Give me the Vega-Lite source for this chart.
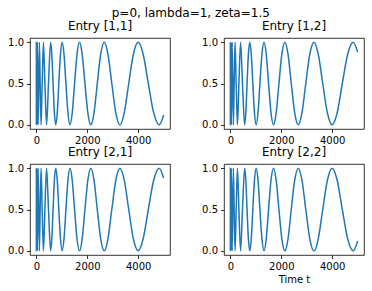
{
  "$schema": "https://vega.github.io/schema/vega-lite/v6.json",
  "padding": {"left": 7, "top": 6, "right": 5, "bottom": 5},
  "title": {"text": "p=0, lambda=1, zeta=1.5", "anchor": "middle", "dx": 5, "offset": 0, "fontSize": 12, "fontWeight": "normal", "color": "#000", "font": "DejaVu Sans"},
  "data": {"values": [
    {"t": 0, "a": 1, "b": 0},
    {"t": 0.1, "a": 0, "b": 1},
    {"t": 0.6, "a": 1, "b": 0},
    {"t": 2.7, "a": 0, "b": 1},
    {"t": 8.2, "a": 1, "b": 0},
    {"t": 19.3, "a": 0, "b": 1},
    {"t": 39.0, "a": 1, "b": 0},
    {"t": 70.6, "a": 0, "b": 1},
    {"t": 117.9, "a": 1, "b": 0},
    {"t": 148.9, "a": 0.5, "b": 0.5},
    {"t": 185.5, "a": 0, "b": 1},
    {"t": 228.4, "a": 0.5, "b": 0.5},
    {"t": 278.2, "a": 1, "b": 0},
    {"t": 335.6, "a": 0.5, "b": 0.5},
    {"t": 401.3, "a": 0, "b": 1},
    {"t": 476.2, "a": 0.5, "b": 0.5},
    {"t": 560.9, "a": 1, "b": 0},
    {"t": 607.2, "a": 0.854, "b": 0.146},
    {"t": 656.2, "a": 0.5, "b": 0.5},
    {"t": 708.1, "a": 0.146, "b": 0.854},
    {"t": 763.0, "a": 0, "b": 1},
    {"t": 821.0, "a": 0.146, "b": 0.854},
    {"t": 882.2, "a": 0.5, "b": 0.5},
    {"t": 946.7, "a": 0.854, "b": 0.146},
    {"t": 1014.6, "a": 1, "b": 0},
    {"t": 1086.1, "a": 0.854, "b": 0.146},
    {"t": 1161.2, "a": 0.5, "b": 0.5},
    {"t": 1240.1, "a": 0.146, "b": 0.854},
    {"t": 1323.0, "a": 0, "b": 1},
    {"t": 1409.8, "a": 0.146, "b": 0.854},
    {"t": 1500.8, "a": 0.5, "b": 0.5},
    {"t": 1596.0, "a": 0.854, "b": 0.146},
    {"t": 1695.7, "a": 1, "b": 0},
    {"t": 1799.9, "a": 0.854, "b": 0.146},
    {"t": 1908.7, "a": 0.5, "b": 0.5},
    {"t": 2022.4, "a": 0.146, "b": 0.854},
    {"t": 2140.9, "a": 0, "b": 1},
    {"t": 2264.6, "a": 0.146, "b": 0.854},
    {"t": 2393.4, "a": 0.5, "b": 0.5},
    {"t": 2527.6, "a": 0.854, "b": 0.146},
    {"t": 2667.3, "a": 1, "b": 0},
    {"t": 2812.6, "a": 0.854, "b": 0.146},
    {"t": 2963.8, "a": 0.5, "b": 0.5},
    {"t": 3120.8, "a": 0.146, "b": 0.854},
    {"t": 3283.9, "a": 0, "b": 1},
    {"t": 3453.2, "a": 0.146, "b": 0.854},
    {"t": 3628.9, "a": 0.5, "b": 0.5},
    {"t": 3811.1, "a": 0.854, "b": 0.146},
    {"t": 4000, "a": 1, "b": 0},
    {"t": 4195.7, "a": 0.854, "b": 0.146},
    {"t": 4398.5, "a": 0.5, "b": 0.5},
    {"t": 4608.4, "a": 0.146, "b": 0.854},
    {"t": 4825.7, "a": 0, "b": 1},
    {"t": 5000, "a": 0.12, "b": 0.88}
  ]},
  "columns": 2,
  "spacing": {"row": 35, "column": 54},
  "bounds": "flush",
  "concat": [
    {
      "title": "Entry [1,1]",
      "width": 140, "height": 91,
      "mark": {"type": "line"},
      "encoding": {
        "x": {"field": "t", "type": "quantitative", "scale": {"domain": [-250, 5250], "nice": false, "zero": false}, "axis": {"title": null, "values": [0, 2000, 4000], "format": "d"}},
        "y": {"field": "a", "type": "quantitative", "scale": {"domain": [-0.05, 1.05], "nice": false, "zero": false}, "axis": {"title": null, "values": [0, 0.5, 1], "format": ".1f"}}
      }
    },
    {
      "title": "Entry [1,2]",
      "width": 140, "height": 91,
      "mark": {"type": "line"},
      "encoding": {
        "x": {"field": "t", "type": "quantitative", "scale": {"domain": [-250, 5250], "nice": false, "zero": false}, "axis": {"title": null, "values": [0, 2000, 4000], "format": "d"}},
        "y": {"field": "b", "type": "quantitative", "scale": {"domain": [-0.05, 1.05], "nice": false, "zero": false}, "axis": {"title": null, "values": [0, 0.5, 1], "format": ".1f"}}
      }
    },
    {
      "title": "Entry [2,1]",
      "width": 140, "height": 91,
      "mark": {"type": "line"},
      "encoding": {
        "x": {"field": "t", "type": "quantitative", "scale": {"domain": [-250, 5250], "nice": false, "zero": false}, "axis": {"title": null, "values": [0, 2000, 4000], "format": "d"}},
        "y": {"field": "b", "type": "quantitative", "scale": {"domain": [-0.05, 1.05], "nice": false, "zero": false}, "axis": {"title": null, "values": [0, 0.5, 1], "format": ".1f"}}
      }
    },
    {
      "title": "Entry [2,2]",
      "width": 140, "height": 91,
      "mark": {"type": "line"},
      "encoding": {
        "x": {"field": "t", "type": "quantitative", "scale": {"domain": [-250, 5250], "nice": false, "zero": false}, "axis": {"title": "Time t", "values": [0, 2000, 4000], "format": "d"}},
        "y": {"field": "a", "type": "quantitative", "scale": {"domain": [-0.05, 1.05], "nice": false, "zero": false}, "axis": {"title": null, "values": [0, 0.5, 1], "format": ".1f"}}
      }
    }
  ],
  "resolve": {"scale": {"y": "independent"}},
  "config": {
    "font": "DejaVu Sans",
    "background": "white",
    "view": {"stroke": "#000", "strokeWidth": 0.8},
    "axis": {"grid": false, "domain": false, "tickColor": "#000", "tickSize": 3.5, "tickWidth": 0.8, "labelFontSize": 10, "labelColor": "#000", "labelPadding": 3, "labelFlush": false, "labelOverlap": false, "titleFontSize": 10, "titleFontWeight": "normal", "titleColor": "#000", "titlePadding": 3},
    "title": {"fontSize": 12, "fontWeight": "normal", "color": "#000", "offset": 4},
    "line": {"color": "#1f77b4", "strokeWidth": 1.5, "interpolate": "monotone"}
  }
}
